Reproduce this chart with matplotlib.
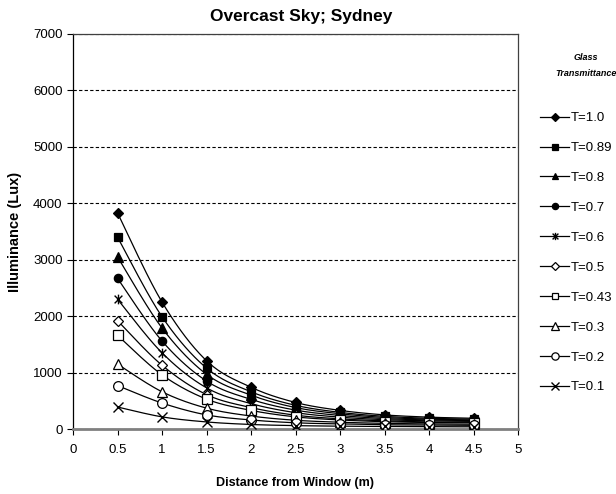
import numpy as np
import matplotlib
matplotlib.use("Agg")
import matplotlib.pyplot as plt
from matplotlib.path import Path
from matplotlib.lines import Line2D

plt.rcParams['font.family'] = ['Liberation Sans', 'DejaVu Sans']

# ---- data ----
distance = [0.5, 1.0, 1.5, 2.0, 2.5, 3.0, 3.5, 4.0, 4.5]
labels = ["T=1.0", "T=0.89", "T=0.8", "T=0.7", "T=0.6",
          "T=0.5", "T=0.43", "T=0.3", "T=0.2", "T=0.1"]
t_100 = [3830, 2250, 1210, 740, 470, 330, 250, 210, 190]
t_089 = [3400, 1990, 1080, 660, 420, 295, 225, 190, 175]
t_080 = [3050, 1790, 970, 600, 380, 270, 205, 175, 160]
t_070 = [2670, 1560, 850, 525, 335, 240, 185, 160, 150]
t_060 = [2300, 1350, 730, 450, 290, 210, 165, 145, 135]
t_050 = [1920, 1130, 610, 380, 245, 180, 145, 125, 120]
t_043 = [1660, 960, 530, 330, 215, 160, 130, 115, 110]
t_030 = [1150, 660, 370, 230, 155, 120, 100, 90, 85]
t_020 = [770, 460, 250, 160, 110, 90, 75, 70, 65]
t_010 = [390, 215, 125, 80, 60, 50, 45, 40, 40]
series = [t_100, t_089, t_080, t_070, t_060, t_050, t_043, t_030, t_020, t_010]

x_ticks = [0, 0.5, 1, 1.5, 2, 2.5, 3, 3.5, 4, 4.5, 5]
x_ticklabels = ["0", "0.5", "1", "1.5", "2", "2.5", "3", "3.5", "4", "4.5", "5"]
y_ticks = [0, 1000, 2000, 3000, 4000, 5000, 6000, 7000]

# Excel-like star marker: vertical bar plus an X
star = Path([(0, -1), (0, 1), (-0.8, -0.8), (0.8, 0.8), (-0.8, 0.8), (0.8, -0.8)],
            [Path.MOVETO, Path.LINETO, Path.MOVETO, Path.LINETO, Path.MOVETO, Path.LINETO])

styles = [
    dict(marker='D', mfc='black', ms=5.5),
    dict(marker='s', mfc='black', ms=6),
    dict(marker='^', mfc='black', ms=6.5),
    dict(marker='o', mfc='black', ms=6),
    dict(marker=star, mfc='black', ms=7, mew=1.0),
    dict(marker='D', mfc='white', ms=5.5),
    dict(marker='s', mfc='white', ms=6.5),
    dict(marker='^', mfc='white', ms=7),
    dict(marker='o', mfc='white', ms=7),
    dict(marker='x', mfc='black', ms=7, mew=1.0),
]


def smooth(xs, ys, n=20):
    """Excel-style smoothed line (Catmull-Rom through the points)."""
    xs = np.asarray(xs, float)
    ys = np.asarray(ys, float)
    P = np.column_stack([xs, ys])
    P = np.vstack([P[0], P, P[-1]])
    out = []
    for i in range(1, len(P) - 2):
        p0, p1, p2, p3 = P[i - 1], P[i], P[i + 1], P[i + 2]
        c1 = p1 + (p2 - p0) / 6.0
        c2 = p2 - (p3 - p1) / 6.0
        t = np.linspace(0, 1, n)[:, None]
        seg = ((1 - t) ** 3) * p1 + 3 * ((1 - t) ** 2) * t * c1 + 3 * (1 - t) * t ** 2 * c2 + t ** 3 * p2
        out.append(seg if i == 1 else seg[1:])
    out = np.vstack(out)
    return out[:, 0], out[:, 1]


fig = plt.figure(figsize=(6.16, 4.94), dpi=100)
ax = fig.add_axes([73 / 616, 1 - 429 / 494, 445 / 616, 395 / 494])

handles = []
for ys, lab, st in zip(series, labels, styles):
    sx, sy = smooth(distance, ys)
    ax.plot(sx, sy, color='black', lw=0.9, zorder=3)
    ax.plot(distance, ys, linestyle='none', marker=st['marker'], mfc=st['mfc'],
            mec='black', ms=st['ms'], mew=st.get('mew', 0.9), zorder=4)
    handles.append(Line2D([], [], color='black', lw=0.9, marker=st['marker'],
                          mfc=st['mfc'], mec='black', ms=st['ms'] * 0.75,
                          mew=st.get('mew', 0.9), label=lab))

ax.set_xlim(0, 5)
ax.set_ylim(0, 7000)
ax.set_xticks(x_ticks)
ax.set_xticklabels(x_ticklabels)
ax.set_yticks(y_ticks)
ax.tick_params(axis='both', labelsize=9.5, colors='black', direction='out', length=4, width=0.8)
ax.tick_params(axis='x', pad=7)
ax.yaxis.grid(True, linestyle=(0, (3, 2)), color='black', lw=0.8)
ax.set_axisbelow(True)

ax.spines['bottom'].set_color('#808080')
ax.spines['bottom'].set_linewidth(2.0)
ax.spines['left'].set_color('black')
ax.spines['left'].set_linewidth(0.9)
for s in ('top', 'right'):
    ax.spines[s].set_color('#404040')
    ax.spines[s].set_linewidth(0.9)

fig.text(301 / 616, 1 - 17 / 494, "Overcast Sky; Sydney", ha='center', va='center',
         fontsize=12.5, fontweight='bold')
ax.set_xlabel("Distance from Window (m)", fontsize=9, fontweight='bold', labelpad=15)
ax.set_ylabel("Illuminance (Lux)", fontsize=10.5, fontweight='bold', labelpad=8)

fig.text(586 / 616, 1 - 58 / 494, "Glass", ha='center', va='center',
         fontsize=6.5, fontweight='bold', fontstyle='italic')
fig.text(586 / 616, 1 - 73 / 494, "Transmittance", ha='center', va='center',
         fontsize=6.5, fontweight='bold', fontstyle='italic')

fig.legend(handles=handles, loc='upper left', bbox_to_anchor=(540 / 616, 1 - 112 / 494),
           frameon=False, fontsize=9.5, handlelength=2.2, handletextpad=0.15,
           labelspacing=1.34, borderaxespad=0, borderpad=0)

fig.savefig("out.png", dpi=100)
